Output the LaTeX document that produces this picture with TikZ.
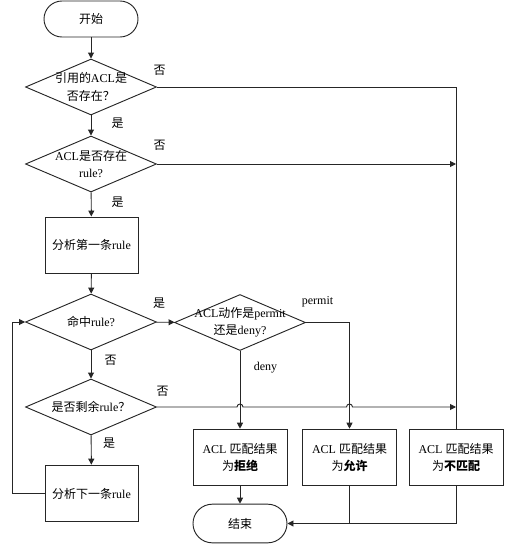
\documentclass[tikz,border=0pt]{standalone}
\usepackage{fontspec}
\setmainfont{Liberation Serif}
\newfontfamily\cjk{Noto Sans CJK SC}
\usetikzlibrary{shapes.geometric,arrows.meta,calc}
\begin{document}
\begin{tikzpicture}[x=0.75pt,y=-0.75pt,
  every node/.style={font=\fontsize{9}{13}\selectfont},
  line/.style={draw=black!85, line width=0.7pt},
  arr/.style={line, -{Triangle[length=4.5pt,width=4.5pt]}},
  term/.style={draw=black!85, line width=0.7pt, rounded corners=13.5pt, minimum width=70.5pt, minimum height=27pt, inner sep=0pt, align=center},
  dec/.style={draw=black!85, line width=0.7pt, diamond, aspect=2.34, minimum width=98.25pt, minimum height=42pt, inner sep=0pt},
  proc/.style={draw=black!85, line width=0.7pt, rectangle, minimum width=70.5pt, minimum height=42.5pt, inner sep=0pt, align=center},
  lab/.style={inner sep=0pt}
]
\useasboundingbox (0,0) rectangle (532,550);

% nodes
\node[term] (start) at (91,19) {{\cjk 开始}};
\node[dec, label={[align=center]center:{\cjk 引用的}ACL{\cjk 是}\\{\cjk 否存在？}}] (d1) at (91,87) {};
\node[dec, label={[align=center]center:ACL{\cjk 是否存在}\\rule?}] (d2) at (91,164) {};
\node[proc, minimum width=69.75pt, minimum height=42pt] (b1) at (91.5,245) {{\cjk 分析第一条}rule};
\node[dec, label={[align=center]center:{\cjk 命中}rule?}] (d3) at (91,322) {};
\node[dec, label={[align=center]center:{\cjk 是否剩余}rule{\cjk ？}}] (d4) at (91,407) {};
\node[proc, minimum width=69.75pt] (b2) at (91.5,493.5) {{\cjk 分析下一条}rule};
\node[dec, label={[align=center]center:ACL{\cjk 动作是}permit\\{\cjk 还是}deny?}] (d5) at (240,322.5) {};
\node[proc] (r1) at (240,457.5) {ACL {\cjk 匹配结果}\\{\cjk 为\textbf{拒绝}}};
\node[proc] (r2) at (349.5,457.5) {ACL {\cjk 匹配结果}\\{\cjk 为\textbf{允许}}};
\node[proc] (r3) at (456,457.5) {ACL {\cjk 匹配结果}\\{\cjk 为\textbf{不匹配}}};
\node[term, minimum height=29pt, rounded corners=14.5pt] (end) at (240,523.5) {{\cjk 结束}};

\coordinate (lp) at (12,0);

% connectors
\draw[arr] (start) -- (d1);
\draw[arr] (d1) -- (d2);
\draw[arr] (d2) -- (b1);
\draw[arr] (b1) -- (d3);
\draw[arr] (d3) -- (d4);
\draw[arr] (d4) -- (b2);
\draw[arr] (d3) -- (d5);
\draw[arr] (b2.west) -- (b2.west -| lp) |- (d3.west);
\draw[line] (d1.east) -| (r3.north);
\draw[arr] (d2.east) -- (d2.east -| r3.north);
\draw[arr] (d5.south) -- (r1.north);
\draw[arr] (d5.east) -| (r2.north);
\draw[arr] (d4.east) -- ([xshift=-2.25pt]d4.east -| r1.north) arc (180:360:3)
  -- ([xshift=-2.25pt]d4.east -| r2.north) arc (180:360:3) -- (d4.east -| r3.north);
\draw[arr] (r1) -- (end);
\draw[line] (r2.south) -- (r2.south |- end.east);
\draw[arr] (r3.south) |- (end.east);

% labels
\node[lab] at (159.5,70) {{\cjk 否}};
\node[lab] at (117.5,123) {{\cjk 是}};
\node[lab] at (159.5,145.5) {{\cjk 否}};
\node[lab] at (117.5,202.5) {{\cjk 是}};
\node[lab] at (159,303.5) {{\cjk 是}};
\node[lab] at (110.5,360) {{\cjk 否}};
\node[lab] at (162.5,391) {{\cjk 否}};
\node[lab] at (109,443.5) {{\cjk 是}};
\node[lab] at (317.5,302) {permit};
\node[lab] at (265.5,368) {deny};
\end{tikzpicture}
\end{document}
